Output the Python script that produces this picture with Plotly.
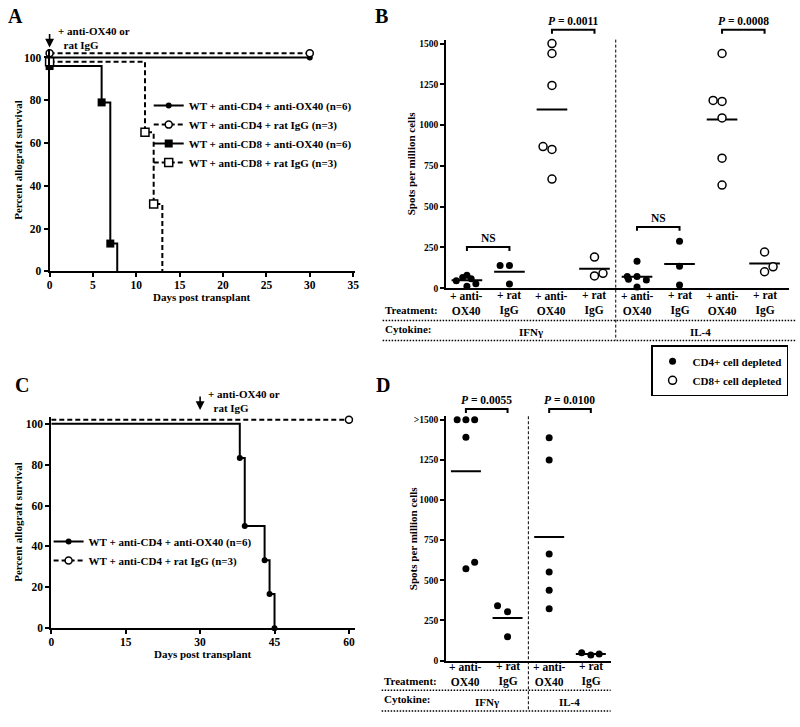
import numpy as np
import plotly.graph_objects as go

W, H = 800, 727
FONT = '"Liberation Serif", "Times New Roman", Times, serif'

# ======================= DATA =======================
# Panel A - allograft survival (%), as plotted (curves offset slightly for visibility)
A_cd4_ox40_day = [0, 30]
A_cd4_ox40_pct = [100, 100]
A_cd4_igg_day = [0, 30]
A_cd4_igg_pct = [102, 102]
A_cd8_ox40_day = [0, 6, 7, 7.8]
A_cd8_ox40_pct = [96, 79, 13, 0]
A_cd8_igg_day = [0, 11, 12, 13]
A_cd8_igg_pct = [98, 65, 31.5, 0]
A_names = ["WT + anti-CD4 + anti-OX40 (n=6)", "WT + anti-CD4 + rat IgG (n=3)",
           "WT + anti-CD8 + anti-OX40 (n=6)", "WT + anti-CD8 + rat IgG (n=3)"]
A_treat_day = 0
A_xticks = [0, 5, 10, 15, 20, 25, 30, 35]
A_yticks = [0, 20, 40, 60, 80, 100]

# Panel C
C_ox40_day = [0, 38, 39, 43, 44, 45]
C_ox40_pct = [100, 83.3, 50, 33.3, 16.7, 0]
C_igg_day = [0, 60]
C_igg_pct = [102, 102]
C_names = ["WT + anti-CD4 + anti-OX40 (n=6)", "WT + anti-CD4 + rat IgG (n=3)"]
C_treat_day = 30
C_xticks = [0, 15, 30, 45, 60]
C_yticks = [0, 20, 40, 60, 80, 100]

# Panel B - ELISPOT, spots per million cells
B_treatments = ["+ anti-<br>OX40", "+ rat<br>IgG"] * 4
B_cytokines = ["IFNγ", "IL-4"]
B_yticks = [0, 250, 500, 750, 1000, 1250, 1500]
B_cd4_ifng_ox40 = [45, 65, 80, 58, 28, 12]
B_cd4_ifng_igg = [139, 139, 26]
B_cd8_ifng_ox40 = [1500, 1439, 1243, 868, 851, 669]
B_cd8_ifng_igg = [191, 75, 91]
B_cd4_il4_ox40 = [165, 71, 55, 71, 50, 8]
B_cd4_il4_igg = [288, 135, 20]
B_cd8_il4_ox40 = [1439, 1151, 1145, 1044, 797, 632]
B_cd8_il4_igg = [222, 101, 131]
B_sig_labels = ["NS", "<i>P</i> = 0.0011", "NS", "<i>P</i> = 0.0008"]
B_sig_pairs = [(1, 2), (3, 4), (5, 6), (7, 8)]
B_sig_levels = [253, 1585, 376, 1585]

# Panel D
D_treatments = ["+ anti-<br>OX40", "+ rat<br>IgG"] * 2
D_cytokines = ["IFNγ", "IL-4"]
D_yticks = [0, 250, 500, 750, 1000, 1250, 1500]
D_yticktext = ["0", "250", "500", "750", "1000", "1250", ">1500"]
D_ifng_ox40 = [1500, 1500, 1500, 1391, 571, 612]
D_ifng_igg = [341, 304, 148]
D_il4_ox40 = [1387, 1249, 664, 551, 438, 323]
D_il4_igg = [49, 35, 41]
D_sig_labels = ["<i>P</i> = 0.0055", "<i>P</i> = 0.0100"]
D_sig_pairs = [(1, 2), (3, 4)]
D_sig_levels = [1566, 1566]

depletion_names = ["CD4+ cell depleted", "CD8+ cell depleted"]

# ======================= GEOMETRY (pixels) =======================
GEOM = {
    "A": dict(xa="x", ya="y", xdom=(47, 355), xr=(0, 35.2), ydom=(273, 48.4), yr=(0, 104)),
    "B": dict(xa="x2", ya="y2", xdom=(447, 793), xr=(0.51, 8.576), ydom=(290, 39), yr=(0, 1524)),
    "C": dict(xa="x3", ya="y3", xdom=(48.7, 355), xr=(0, 61.2), ydom=(633.3, 419.7), yr=(0, 103.5)),
    "D": dict(xa="x4", ya="y4", xdom=(447, 613), xr=(0.524, 4.476), ydom=(666, 419.3), yr=(0, 1521)),
}


def fx(p):
    return p / W


def fy(p):
    return 1 - p / H


def dpx(panel, v):
    g = GEOM[panel]
    (d0, d1), (r0, r1) = g["xdom"], g["xr"]
    return d0 + (v - r0) / (r1 - r0) * (d1 - d0)


def dpy(panel, v):
    g = GEOM[panel]
    (d0, d1), (r0, r1) = g["ydom"], g["yr"]
    return d0 + (v - r0) / (r1 - r0) * (d1 - d0)


DASH = "5px,3px"
BLK = "black"
TS = 11  # general text size


def bfont(size):
    return dict(family=FONT, size=size, color=BLK, weight="bold")


MK = {
    "fc": dict(symbol="circle", size=6, color=BLK),
    "oc": dict(symbol="circle", size=7, color="white", line=dict(color=BLK, width=1.5)),
    "fs": dict(symbol="square", size=8, color=BLK),
    "os": dict(symbol="square", size=8, color="white", line=dict(color=BLK, width=1.5)),
}

traces = []


def km(panel, days, pct, mark, mk, dash, name, legend):
    g = GEOM[panel]
    ln = dict(color=BLK, width=2, dash=dash, shape="hv")
    traces.append(go.Scatter(x=days, y=pct, mode="lines", line=ln, xaxis=g["xa"], yaxis=g["ya"],
                             showlegend=False, hoverinfo="skip", cliponaxis=False))
    traces.append(go.Scatter(x=days[mark[0]:mark[1]], y=pct[mark[0]:mark[1]], mode="markers",
                             marker=MK[mk], xaxis=g["xa"], yaxis=g["ya"], showlegend=False,
                             cliponaxis=False))
    traces.append(go.Scatter(x=[None], y=[None], mode="lines+markers",
                             line=dict(color=BLK, width=2, dash=dash), marker=MK[mk], name=name,
                             legend=legend, xaxis=g["xa"], yaxis=g["ya"]))


km("A", A_cd4_ox40_day, A_cd4_ox40_pct, (0, 2), "fc", "solid", A_names[0], "legend")
km("A", A_cd4_igg_day, A_cd4_igg_pct, (0, 2), "oc", DASH, A_names[1], "legend")
km("A", A_cd8_ox40_day, A_cd8_ox40_pct, (0, 3), "fs", "solid", A_names[2], "legend")
km("A", A_cd8_igg_day, A_cd8_igg_pct, (0, 3), "os", DASH, A_names[3], "legend")
km("C", C_ox40_day, C_ox40_pct, (1, 6), "fc", "solid", C_names[0], "legend2")
km("C", C_igg_day, C_igg_pct, (1, 2), "oc", DASH, C_names[1], "legend2")

# ---- dot plots ----
B_sets_cd4 = [(1, B_cd4_ifng_ox40, [-0.25, -0.1, 0, 0.1, 0.21, 0]),
              (2, B_cd4_ifng_igg, [-0.22, 0, 0]),
              (5, B_cd4_il4_ox40, [0, -0.23, -0.2, 0, 0.22, 0]),
              (6, B_cd4_il4_igg, [0, 0, 0])]
B_sets_cd8 = [(3, B_cd8_ifng_ox40, [0, 0, 0, -0.21, 0, 0]),
              (4, B_cd8_ifng_igg, [0, 0, 0.2]),
              (7, B_cd8_il4_ox40, [0, -0.21, 0, 0, 0, 0]),
              (8, B_cd8_il4_igg, [0, 0, 0.2])]
D_sets = [(1, D_ifng_ox40, [-0.21, 0, 0.21, 0, 0, 0.21]),
          (2, D_ifng_igg, [-0.24, 0, 0]),
          (3, D_il4_ox40, [0, 0, 0, 0, 0, 0]),
          (4, D_il4_igg, [-0.22, 0, 0.2])]


def dots(panel, sets, marker, name, showlegend):
    g = GEOM[panel]
    xs, ys = [], []
    for pos, vals, jit in sets:
        xs += [pos + j for j in jit]
        ys += list(vals)
    traces.append(go.Scatter(x=xs, y=ys, mode="markers", marker=marker, name=name,
                             legend="legend3", showlegend=showlegend,
                             xaxis=g["xa"], yaxis=g["ya"], cliponaxis=False))


def means(panel, sets):
    g = GEOM[panel]
    xs, ys = [], []
    for pos, vals, _ in sets:
        m = float(np.mean(vals))
        xs += [pos - 0.36, pos + 0.36, None]
        ys += [m, m, None]
    traces.append(go.Scatter(x=xs, y=ys, mode="lines", line=dict(color=BLK, width=2),
                             xaxis=g["xa"], yaxis=g["ya"], showlegend=False, hoverinfo="skip"))


means("B", B_sets_cd4 + B_sets_cd8)
means("D", D_sets)
dots("B", B_sets_cd4, dict(symbol="circle", size=7, color=BLK), depletion_names[0], True)
dots("B", B_sets_cd8, dict(symbol="circle", size=8, color="white", line=dict(color=BLK, width=1.5)),
     depletion_names[1], True)
dots("D", D_sets, dict(symbol="circle", size=7, color=BLK), depletion_names[0], False)

# ======================= LAYOUT =======================
layout = dict(width=W, height=H, margin=dict(l=0, r=0, t=0, b=0),
              paper_bgcolor="white", plot_bgcolor="white", showlegend=True,
              font=dict(family=FONT, color=BLK))

axis_names = {"A": ("xaxis", "yaxis"), "B": ("xaxis2", "yaxis2"),
              "C": ("xaxis3", "yaxis3"), "D": ("xaxis4", "yaxis4")}


def base_axis(size):
    return dict(showline=True, linewidth=2, linecolor=BLK, showgrid=False, zeroline=False,
                ticks="outside", ticklen=4, tickwidth=1.5, tickcolor=BLK,
                tickfont=bfont(size), fixedrange=True)


for p, (xn, yn) in axis_names.items():
    g = GEOM[p]
    xa = base_axis(11.5)
    ya = base_axis(11.5 if p in "AC" else 9.5)
    xa.update(domain=[fx(g["xdom"][0]), fx(g["xdom"][1])], range=list(g["xr"]), anchor=g["ya"],
              ticklabelstandoff=-2)
    ya.update(domain=[fy(g["ydom"][0]), fy(g["ydom"][1])], range=list(g["yr"]), anchor=g["xa"])
    layout[xn] = xa
    layout[yn] = ya

layout["xaxis"].update(tickvals=A_xticks)
layout["yaxis"].update(tickvals=A_yticks)
layout["xaxis3"].update(tickvals=C_xticks)
layout["yaxis3"].update(tickvals=C_yticks)
layout["yaxis2"].update(tickvals=B_yticks)
layout["yaxis4"].update(tickvals=D_yticks, ticktext=D_yticktext)
for xn in ("xaxis2", "xaxis4"):
    layout[xn].update(showticklabels=False, ticks="")

layout["legend"] = dict(x=fx(147), y=fy(91), xanchor="left", yanchor="top", font=bfont(TS),
                        bgcolor="rgba(0,0,0,0)", itemwidth=30, tracegroupgap=0)
layout["legend2"] = dict(x=fx(46), y=fy(531), xanchor="left", yanchor="top", font=bfont(TS),
                         bgcolor="rgba(0,0,0,0)", itemwidth=30, tracegroupgap=0)
layout["legend3"] = dict(x=fx(792), y=fy(347.7), xanchor="right", yanchor="top", font=bfont(TS),
                         bgcolor="white", bordercolor=BLK, borderwidth=1.5, itemwidth=30,
                         tracegroupgap=0)

ann = []
shapes = []


def text(x, y, t, size=TS, xanchor="center", yanchor="middle", angle=0, align="center"):
    ann.append(dict(x=x, y=y, xref="paper", yref="paper", text=t, showarrow=False,
                    font=bfont(size), xanchor=xanchor, yanchor=yanchor, textangle=angle,
                    align=align))


# panel letters
for lab, (px_, py_) in {"A": (13, 15), "B": (382, 15), "C": (19, 388), "D": (383, 388)}.items():
    text(fx(px_), fy(py_), lab, size=20)

# axis titles
text(fx(15), fy(160.5), "Percent allograft survival", TS, angle=-90)
text(fx(15), fy(526), "Percent allograft survival", TS, angle=-90)
text(fx(201), fy(299), "Days post transplant", TS)
text(fx(202), fy(659), "Days post transplant", TS)
text(fx(412), fy(164.5), "Spots per million cells", TS, angle=-90)
text(fx(413), fy(543), "Spots per million cells", TS, angle=-90)

# treatment arrows
for p, day, ytip, ytxt in (("A", A_treat_day, 47, 37.5), ("C", C_treat_day, 413, 404)):
    g = GEOM[p]
    ann.append(dict(x=day, y=fy(ytip), xref=g["xa"], yref="paper", text="", showarrow=True,
                    ax=0, ay=-15, arrowhead=2, arrowsize=1.1, arrowwidth=1.6, arrowcolor=BLK))
    text(fx(dpx(p, day) + 6), fy(ytxt), "+ anti-OX40 or<br>\u00a0\u00a0rat IgG", TS,
         xanchor="left", align="left")


# significance brackets
def bracket(p, pair, level, label):
    x1, x2 = fx(dpx(p, pair[0])), fx(dpx(p, pair[1]))
    yb = dpy(p, level)
    y0, y1 = fy(yb + 4), fy(yb)
    shapes.append(dict(type="path", xref="paper", yref="paper",
                       path=f"M{x1},{y0} L{x1},{y1} L{x2},{y1} L{x2},{y0}",
                       line=dict(color=BLK, width=2)))
    text((x1 + x2) / 2, fy(yb - 1), label, 11.5, yanchor="bottom")


for pair, lev, lab in zip(B_sig_pairs, B_sig_levels, B_sig_labels):
    bracket("B", pair, lev, lab)
for pair, lev, lab in zip(D_sig_pairs, D_sig_levels, D_sig_labels):
    bracket("D", pair, lev, lab)


# treatment / cytokine table
def table(p, treatments, cytokines, y_treat, y_dot1, y_cyto, y_dot2, x_left, x_right, y_top):
    g = GEOM[p]
    n = len(treatments)
    for i, t in enumerate(treatments):
        ann.append(dict(x=i + 1, y=fy(y_treat), xref=g["xa"], yref="paper", text=t,
                        showarrow=False, font=bfont(11.5), xanchor="center", yanchor="middle"))
    text(fx(x_left), fy(y_treat + 7), "Treatment:", TS, xanchor="left")
    text(fx(x_left), fy(y_cyto - 3), "Cytokine:", TS, xanchor="left")
    half = n // len(cytokines)
    for k, c in enumerate(cytokines):
        cx = fx(dpx(p, k * half + (half + 1) / 2))
        text(cx, fy(y_cyto), c, TS)
    for yy in (y_dot1, y_dot2):
        shapes.append(dict(type="line", xref="paper", yref="paper", x0=fx(x_left), x1=fx(x_right),
                           y0=fy(yy), y1=fy(yy), line=dict(color=BLK, width=1.5, dash="1.5px,1.5px")))
    sep = fx(dpx(p, half + 0.5))
    shapes.append(dict(type="line", xref="paper", yref="paper", x0=sep, x1=sep,
                       y0=fy(y_top), y1=fy(y_dot2), line=dict(color=BLK, width=1, dash="3px,2px")))


table("B", B_treatments, B_cytokines, 305, 322.5, 334, 342.7, 383, 800, 39)
table("D", D_treatments, D_cytokines, 680, 696, 708, 717, 382, 613, 419.3)

layout["annotations"] = ann
layout["shapes"] = shapes

fig = go.Figure(data=traces, layout=layout)
fig.write_html("out.html", config={"displayModeBar": False},
               post_script="document.body.style.margin='0px';document.body.style.overflow='hidden';")
